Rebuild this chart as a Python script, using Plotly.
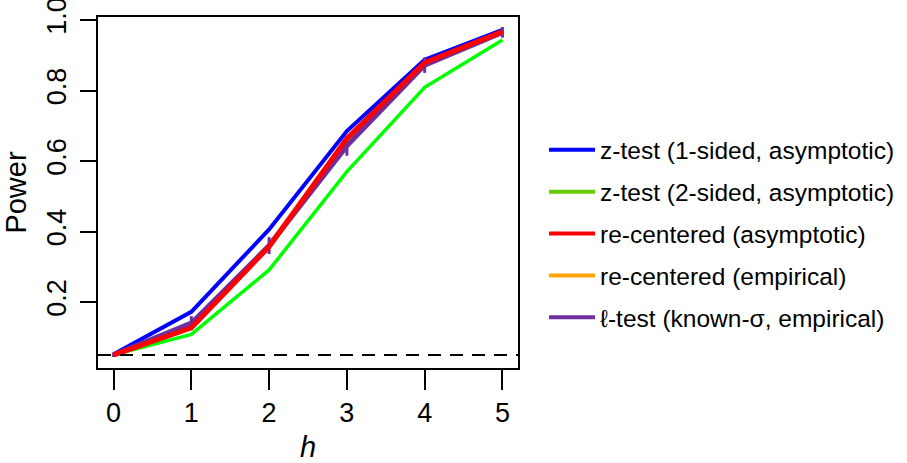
import plotly.graph_objects as go

h = [0, 1, 2, 3, 4, 5]
z1 = [0.052, 0.172, 0.406, 0.685, 0.887, 0.972]
z2 = [0.050, 0.108, 0.291, 0.570, 0.809, 0.943]
rc_asym = [0.050, 0.127, 0.357, 0.664, 0.879, 0.967]
rc_emp = [0.050, 0.130, 0.360, 0.660, 0.877, 0.966]
ell = [0.050, 0.140, 0.360, 0.643, 0.872, 0.965]
ell_err = [0.006, 0.020, 0.024, 0.028, 0.022, 0.015]
alpha = 0.05

names = ["z-test (1-sided, asymptotic)", "z-test (2-sided, asymptotic)",
         "re-centered (asymptotic)", "re-centered (empirical)",
         "ℓ-test (known-σ, empirical)"]
plot_colors = ["#0000FF", "#00FF00", "#FF0000", "#FFA500", "#6E2F9E"]
legend_colors = ["#0000FF", "#66CC00", "#FF0000", "#FFA500", "#6E2F9E"]

FONT = "Liberation Sans, Arial, Helvetica, sans-serif"
fig = go.Figure()

# plotting order: blue, green, orange, purple (with error bars), red
fig.add_trace(go.Scatter(x=h, y=z1, mode="lines", line=dict(color=plot_colors[0], width=4), showlegend=False))
fig.add_trace(go.Scatter(x=h, y=z2, mode="lines", line=dict(color=plot_colors[1], width=3.5), showlegend=False))
fig.add_trace(go.Scatter(x=h, y=rc_emp, mode="lines", line=dict(color=plot_colors[3], width=5), showlegend=False))
fig.add_trace(go.Scatter(x=h, y=ell, mode="lines", line=dict(color=plot_colors[4], width=5), showlegend=False,
                         error_y=dict(type="data", array=ell_err, color=plot_colors[4], thickness=3, width=0)))
fig.add_trace(go.Scatter(x=h, y=rc_asym, mode="lines", line=dict(color=plot_colors[2], width=5), showlegend=False))

# legend entries
for i, (n, c) in enumerate(zip(names, legend_colors)):
    fig.add_trace(go.Scatter(x=[None], y=[None], mode="lines", name=n,
                             line=dict(color=c, width=4), legendgroup=str(i)))

fig.add_hline(y=alpha, line=dict(color="black", width=2, dash="13px,9px"))

fig.update_layout(
    width=907, height=463,
    margin=dict(l=98, r=389, t=17, b=95, autoexpand=False),
    paper_bgcolor="white", plot_bgcolor="white",
    font=dict(family=FONT, color="black"),
    showlegend=True,
    legend=dict(x=1.062, y=0.382, xanchor="left", yanchor="middle",
                font=dict(size=24.5, family=FONT), tracegroupgap=7,
                itemwidth=46, bgcolor="rgba(0,0,0,0)"),
    xaxis=dict(range=[-0.2, 5.2], tickvals=h, ticktext=[str(v) for v in h],
               automargin=False,
               showgrid=False, zeroline=False, showline=True, mirror=True,
               linecolor="black", linewidth=2, ticks="outside", ticklen=20,
               tickwidth=2, tickcolor="black", tickfont=dict(size=27),
               ticklabelstandoff=0, ticklabeloverflow="allow",
               title=dict(text="<i>h</i>", font=dict(size=29), standoff=9)),
    yaxis=dict(range=[0.0128, 1.0085], tickvals=[0.2, 0.4, 0.6, 0.8, 1.0],
               ticktext=["0.2", "0.4", "0.6", "0.8", "1.0"],
               automargin=False,
               showgrid=False, zeroline=False, showline=True, mirror=True,
               linecolor="black", linewidth=2, ticks="outside", ticklen=16,
               tickwidth=2, tickcolor="black", tickfont=dict(size=27),
               tickangle=-90, ticklabelstandoff=3, ticklabeloverflow="allow",
               title=dict(text="Power", font=dict(size=29), standoff=7)),
)

fig.write_html("out.html")
